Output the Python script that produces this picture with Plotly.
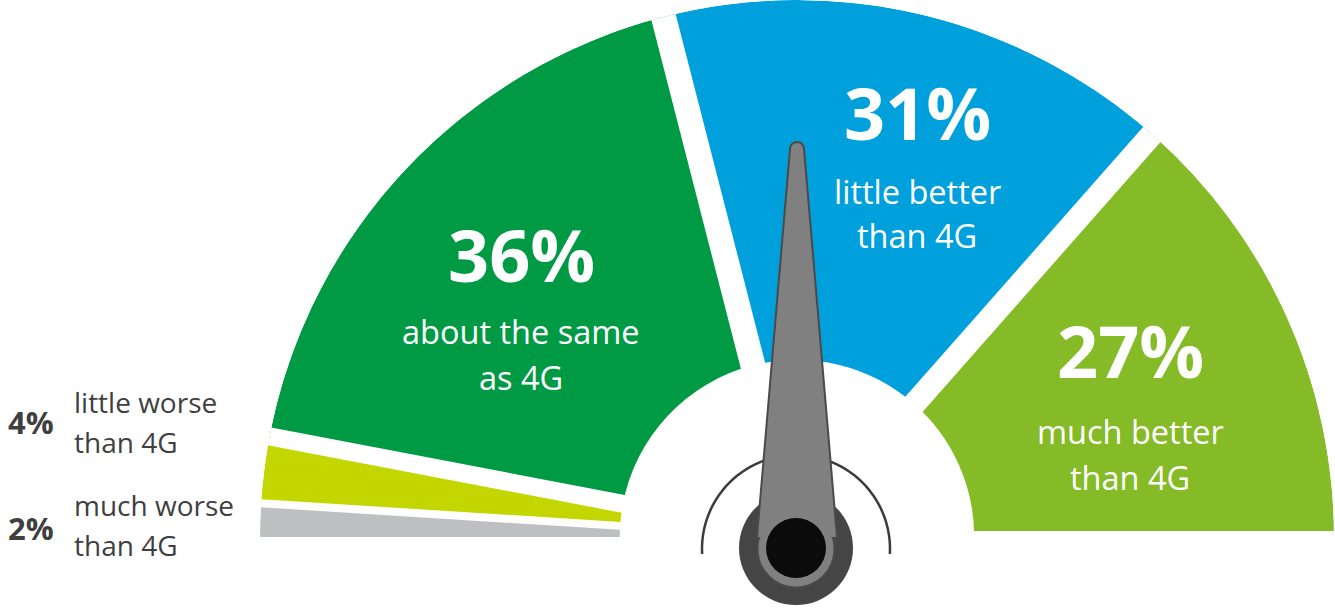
import numpy as np
import plotly.graph_objects as go

# ---------------- data ----------------
categories = ["much worse than 4G", "little worse than 4G", "about the same as 4G",
              "little better than 4G", "much better than 4G"]
percent = [2, 4, 36, 31, 27]
label_line1 = ["much worse", "little worse", "about the same", "little better", "much better"]
label_line2 = ["than 4G", "than 4G", "as 4G", "than 4G", "than 4G"]
needle_value = 50  # percent position of the needle

# ---------------- style ----------------
colors = ["#BDBFC1", "#C4D600", "#009A44", "#00A0DC", "#84BB26"]
gap_px = [8, 18, 25, 23]          # white gaps between neighbouring wedges
W, H = 1335, 614
CX, CY, R = 797, 537, 537         # gauge centre / radius in px
HOLE = 0.33
FONT = "Open Sans"

total = sum(percent)
deg = np.array(percent, dtype=float) * 180.0 / total
ends = np.cumsum(deg)
starts = ends - deg
centers = starts + deg / 2

fig = go.Figure()

# wedges
fig.add_trace(go.Barpolar(
    r=[1 - HOLE] * len(percent), base=HOLE, theta=centers, width=deg,
    marker=dict(color=colors, line=dict(width=0)),
    customdata=categories, hoverinfo="skip", showlegend=False))

# white gaps at the wedge boundaries
for b, g in zip(ends[:-1], gap_px):
    fig.add_trace(go.Scatterpolar(
        r=[HOLE - 0.03, 1.0], theta=[b, b], mode="lines",
        line=dict(color="white", width=g), hoverinfo="skip", showlegend=False))
fig.add_trace(go.Scatterpolar(
    r=[HOLE - 0.03, 1.0], theta=[ends[-1], ends[-1]], mode="lines",
    line=dict(color="white", width=12), hoverinfo="skip", showlegend=False))

# needle polygon (computed in needle frame, converted to r/theta)
phi_n = np.radians(180 - needle_value * 180.0 / total)
dir_u = np.array([np.cos(phi_n), np.sin(phi_n)])
dir_v = np.array([np.cos(phi_n - np.pi / 2), np.sin(phi_n - np.pi / 2)])
L_TIP, W_TIP, W_BASE = 388.0, 7.0, 40.0
pts = [(0.0, -W_BASE), (L_TIP, -W_TIP)]
for a in np.linspace(-np.pi / 2, np.pi / 2, 13)[1:-1]:
    pts.append((L_TIP + W_TIP * np.cos(a), W_TIP * np.sin(a)))
pts += [(L_TIP, W_TIP), (0.0, W_BASE)]
nr, nt = [], []
for u, v in pts:
    p = u * dir_u + v * dir_v
    nr.append(np.hypot(*p) / R)
    nt.append(180 - np.degrees(np.arctan2(p[1], p[0])))
fig.add_trace(go.Scatterpolar(
    r=nr, theta=nt, mode="lines", fill="toself", fillcolor="#808080",
    line=dict(color="#4a4a4a", width=2), hoverinfo="skip", showlegend=False))


def px_x(x):
    return x / W


def px_y(y):
    return 1 - y / H


def circ(cx, cy, r, fill, layer, line=None):
    return dict(type="circle", xref="paper", yref="paper",
                x0=px_x(cx - r), x1=px_x(cx + r), y0=px_y(cy + r), y1=px_y(cy - r),
                fillcolor=fill, line=line or dict(width=0), layer=layer)


# arc behind the needle
HX, HY, AR = 796, 549, 94
angs = np.radians(np.linspace(-3, 183, 80))
path = "M " + " L ".join(f"{px_x(HX + AR*np.cos(a)):.5f},{px_y(HY - AR*np.sin(a)):.5f}" for a in angs)
shapes = [
    dict(type="path", path=path, xref="paper", yref="paper",
         line=dict(color="#3c3c3c", width=2.5), layer="below"),
    circ(796, 548, 57, "#454545", "below"),
    circ(796, 549, 38.5, "#808080", "below", dict(color="#4a4a4a", width=2)),
    circ(796, 548, 30, "#0b0b0b", "above"),
]

# annotations
annotations = []
big_pos = [None, None, (521, 254), (917, 112), (1130, 350)]
l1_pos = [None, None, (521, 331), (917, 192), (1130, 431)]
l2_pos = [None, None, (521, 377), (917, 236), (1130, 477)]
left_pct = [(31, 528), (31, 422)]
left_l1 = [(72, 505), (72, 402)]
left_l2 = [(72, 545), (72, 442)]

for i, p in enumerate(percent):
    if big_pos[i] is not None:
        for (x, y), txt, size, bold in [(big_pos[i], f"{p}%", 72, True),
                                        (l1_pos[i], label_line1[i], 32.5, False),
                                        (l2_pos[i], label_line2[i], 32.5, False)]:
            annotations.append(dict(
                x=px_x(x), y=px_y(y), xref="paper", yref="paper", showarrow=False,
                xanchor="center", yanchor="middle",
                text=f"<b>{txt}</b>" if bold else txt,
                font=dict(family=FONT, size=size, color="white")))
    else:
        x, y = left_pct[i]
        annotations.append(dict(
            x=px_x(x), y=px_y(y), xref="paper", yref="paper", showarrow=False,
            xanchor="center", yanchor="middle", text=f"<b>{p}%</b>",
            font=dict(family=FONT, size=31, color="#3f3f3f")))
        for (x, y), txt in [(left_l1[i], label_line1[i]), (left_l2[i], label_line2[i])]:
            annotations.append(dict(
                x=px_x(x), y=px_y(y), xref="paper", yref="paper", showarrow=False,
                xanchor="left", yanchor="middle", text=txt,
                font=dict(family=FONT, size=28, color="#3f3f3f")))

fig.update_layout(
    width=W, height=H, margin=dict(l=0, r=0, t=0, b=0),
    paper_bgcolor="white", plot_bgcolor="white", showlegend=False,
    polar=dict(
        domain=dict(x=[px_x(CX - R), px_x(CX + R)], y=[px_y(CY), px_y(CY - R)]),
        sector=[0, 180], hole=0, bgcolor="rgba(0,0,0,0)",
        radialaxis=dict(visible=False, range=[0, 1], showgrid=False),
        angularaxis=dict(visible=False, rotation=180, direction="clockwise", showgrid=False),
    ),
    shapes=shapes, annotations=annotations,
)

fig.write_html("out.html", config={"displayModeBar": False},
               post_script="document.body.style.margin='0';document.body.style.overflow='hidden';")
